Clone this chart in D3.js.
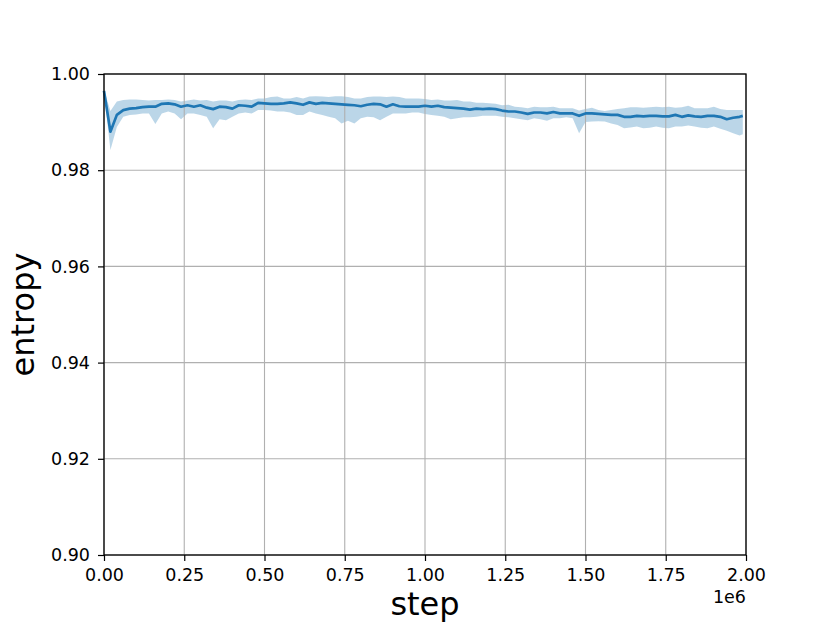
<!DOCTYPE html>
<html lang="en">
<head>
<meta charset="UTF-8">
<title>entropy vs step</title>
<script src="https://d3js.org/d3.v7.min.js"></script>
<style>
  body { margin: 0; background: #fff; }
  svg { display: block; }
  text { font-family: "DejaVu Sans", sans-serif; fill: #000; }
</style>
</head>
<body>
<svg width="830" height="623"></svg>
<script>
// training steps, every 20k plus the last logged step
const steps = d3.range(0, 2000000, 20000).concat([1990000]);

// mean entropy per step
const meanEntropy = [
  0.9965, 0.9880, 0.9915, 0.9925, 0.9928, 0.9929, 0.9931, 0.9932, 0.9932, 0.9938,
  0.9939, 0.9937, 0.9932, 0.9935, 0.9932, 0.9935, 0.9930, 0.9927, 0.9932, 0.9931,
  0.9928, 0.9935, 0.9934, 0.9932, 0.9940, 0.9939, 0.9938, 0.9938, 0.9939, 0.9941,
  0.9939, 0.9936, 0.9941, 0.9938, 0.9940, 0.9939, 0.9938, 0.9937, 0.9936, 0.9935,
  0.9933, 0.9936, 0.9938, 0.9937, 0.9932, 0.9937, 0.9933, 0.9932, 0.9932, 0.9932,
  0.9934, 0.9932, 0.9934, 0.9931, 0.9930, 0.9929, 0.9928, 0.9926, 0.9928, 0.9927,
  0.9928, 0.9927, 0.9924, 0.9922, 0.9922, 0.9920, 0.9917, 0.9920, 0.9920, 0.9918,
  0.9921, 0.9918, 0.9918, 0.9918, 0.9913, 0.9918, 0.9918, 0.9917, 0.9916, 0.9915,
  0.9915, 0.9911, 0.9911, 0.9913, 0.9912, 0.9913, 0.9913, 0.9912, 0.9912, 0.9915,
  0.9911, 0.9914, 0.9912, 0.9911, 0.9913, 0.9913, 0.9911, 0.9906, 0.9909, 0.9911,
  0.9913
];

// upper edge of the shaded band
const upperEntropy = [
  0.9968, 0.9923, 0.9943, 0.9946, 0.9947, 0.9947, 0.9946, 0.9945, 0.9946, 0.9946,
  0.9947, 0.9946, 0.9943, 0.9945, 0.9947, 0.9945, 0.9946, 0.9943, 0.9945, 0.9945,
  0.9943, 0.9946, 0.9947, 0.9946, 0.9949, 0.9949, 0.9952, 0.9953, 0.9949, 0.9949,
  0.9952, 0.9949, 0.9953, 0.9954, 0.9953, 0.9952, 0.9954, 0.9954, 0.9952, 0.9949,
  0.9949, 0.9952, 0.9953, 0.9953, 0.9952, 0.9953, 0.9952, 0.9949, 0.9949, 0.9949,
  0.9948, 0.9946, 0.9947, 0.9945, 0.9945, 0.9946, 0.9943, 0.9943, 0.9940, 0.9940,
  0.9939, 0.9938, 0.9935, 0.9936, 0.9932, 0.9931, 0.9929, 0.9932, 0.9931, 0.9931,
  0.9932, 0.9929, 0.9929, 0.9929, 0.9924, 0.9927, 0.9930, 0.9925, 0.9923, 0.9925,
  0.9927, 0.9929, 0.9931, 0.9931, 0.9930, 0.9931, 0.9932, 0.9931, 0.9932, 0.9930,
  0.9931, 0.9934, 0.9929, 0.9929, 0.9929, 0.9932, 0.9927, 0.9925, 0.9925, 0.9925,
  0.9925
];

// lower edge of the shaded band
const lowerEntropy = [
  0.9962, 0.9842, 0.9890, 0.9911, 0.9915, 0.9916, 0.9918, 0.9918, 0.9896, 0.9918,
  0.9922, 0.9918, 0.9906, 0.9918, 0.9918, 0.9915, 0.9911, 0.9887, 0.9906, 0.9904,
  0.9911, 0.9918, 0.9920, 0.9918, 0.9925, 0.9925, 0.9924, 0.9922, 0.9922, 0.9920,
  0.9915, 0.9915, 0.9922, 0.9918, 0.9915, 0.9911, 0.9908, 0.9897, 0.9903, 0.9897,
  0.9908, 0.9911, 0.9910, 0.9904, 0.9911, 0.9918, 0.9918, 0.9918, 0.9920, 0.9920,
  0.9917, 0.9915, 0.9913, 0.9911, 0.9906, 0.9908, 0.9910, 0.9910, 0.9911, 0.9913,
  0.9913, 0.9913, 0.9911, 0.9910, 0.9908, 0.9906, 0.9904, 0.9908, 0.9906, 0.9903,
  0.9908, 0.9908, 0.9910, 0.9908, 0.9877, 0.9900, 0.9901, 0.9902, 0.9901, 0.9897,
  0.9894, 0.9887, 0.9889, 0.9891, 0.9887, 0.9888, 0.9891, 0.9888, 0.9887, 0.9891,
  0.9891, 0.9893, 0.9891, 0.9888, 0.9887, 0.9891, 0.9886, 0.9882, 0.9877, 0.9872,
  0.9875
];

const xTicks = [0, 250000, 500000, 750000, 1000000, 1250000, 1500000, 1750000, 2000000];
const yTicks = [0.90, 0.92, 0.94, 0.96, 0.98, 1.00];

const plotLeft = 104, plotRight = 746, plotTop = 74, plotBottom = 555;

const x = d3.scaleLinear().domain([0, 2000000]).range([plotLeft, plotRight]);
const y = d3.scaleLinear().domain([0.90, 1.00]).range([plotBottom, plotTop]);

const svg = d3.select("svg");
const data = steps.map((s, i) => ({ s: s, m: meanEntropy[i], lo: lowerEntropy[i], hi: upperEntropy[i] }));

// shaded band
svg.append("path")
  .datum(data)
  .attr("fill", "#1f77b4")
  .attr("fill-opacity", 0.3)
  .attr("d", d3.area().x(d => x(d.s)).y0(d => y(d.lo)).y1(d => y(d.hi)));

// grid
svg.append("g").selectAll("line").data(xTicks).enter().append("line")
  .attr("x1", d => x(d)).attr("x2", d => x(d))
  .attr("y1", plotTop).attr("y2", plotBottom)
  .attr("stroke", "#b0b0b0").attr("stroke-width", 1.1);
svg.append("g").selectAll("line").data(yTicks).enter().append("line")
  .attr("x1", plotLeft).attr("x2", plotRight)
  .attr("y1", d => y(d)).attr("y2", d => y(d))
  .attr("stroke", "#b0b0b0").attr("stroke-width", 1.1);

// mean line
svg.append("path")
  .datum(data)
  .attr("fill", "none")
  .attr("stroke", "#1f77b4")
  .attr("stroke-width", 2.7)
  .attr("stroke-linejoin", "round")
  .attr("d", d3.line().x(d => x(d.s)).y(d => y(d.m)));

// axes
const xAxis = svg.append("g")
  .attr("transform", "translate(0," + plotBottom + ")")
  .call(d3.axisBottom(x).tickValues(xTicks).tickSize(6).tickPadding(7.5)
    .tickFormat(d => d3.format(".2f")(d / 1e6)));
const yAxis = svg.append("g")
  .attr("transform", "translate(" + plotLeft + ",0)")
  .call(d3.axisLeft(y).tickValues(yTicks).tickSize(6).tickPadding(8)
    .tickFormat(d3.format(".2f")));

[xAxis, yAxis].forEach(a => {
  a.select(".domain").remove();
  a.selectAll(".tick line").attr("stroke", "#000").attr("stroke-width", 1.2);
  a.selectAll(".tick text").style("font-size", "17.5px").style("font-family", "DejaVu Sans");
});

// frame
svg.append("rect")
  .attr("x", plotLeft).attr("y", plotTop)
  .attr("width", plotRight - plotLeft).attr("height", plotBottom - plotTop)
  .attr("fill", "none").attr("stroke", "#000").attr("stroke-width", 1.3);

// offset text and labels
svg.append("text")
  .attr("x", plotRight).attr("y", 603)
  .attr("text-anchor", "end")
  .style("font-size", "17.5px")
  .text("1e6");

svg.append("text")
  .attr("x", (plotLeft + plotRight) / 2).attr("y", 615)
  .attr("text-anchor", "middle")
  .style("font-size", "32px")
  .text("step");

svg.append("text")
  .attr("transform", "translate(34," + (plotTop + plotBottom) / 2 + ") rotate(-90)")
  .attr("text-anchor", "middle")
  .style("font-size", "32px")
  .text("entropy");
</script>
</body>
</html>
